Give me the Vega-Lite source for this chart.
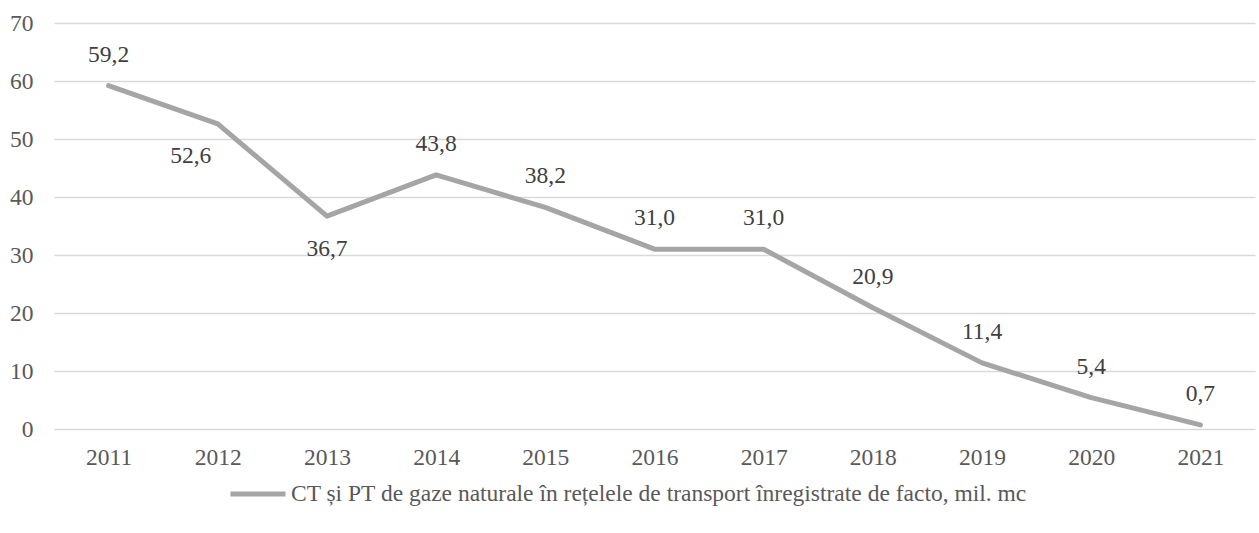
{
  "$schema": "https://vega.github.io/schema/vega-lite/v6.json",
  "autosize": "none",
  "width": 1201,
  "height": 406,
  "padding": {"left": 54, "top": 23, "right": 4, "bottom": 104},
  "background": "white",
  "config": {
    "view": {"stroke": null},
    "font": "Liberation Serif"
  },
  "data": {
    "values": [
      {"year": "2011", "value": 59.2, "label": "59,2", "series": "CT și PT de gaze naturale în rețelele de transport înregistrate de facto, mil. mc"},
      {"year": "2012", "value": 52.6, "label": "52,6", "series": "CT și PT de gaze naturale în rețelele de transport înregistrate de facto, mil. mc"},
      {"year": "2013", "value": 36.7, "label": "36,7", "series": "CT și PT de gaze naturale în rețelele de transport înregistrate de facto, mil. mc"},
      {"year": "2014", "value": 43.8, "label": "43,8", "series": "CT și PT de gaze naturale în rețelele de transport înregistrate de facto, mil. mc"},
      {"year": "2015", "value": 38.2, "label": "38,2", "series": "CT și PT de gaze naturale în rețelele de transport înregistrate de facto, mil. mc"},
      {"year": "2016", "value": 31.0, "label": "31,0", "series": "CT și PT de gaze naturale în rețelele de transport înregistrate de facto, mil. mc"},
      {"year": "2017", "value": 31.0, "label": "31,0", "series": "CT și PT de gaze naturale în rețelele de transport înregistrate de facto, mil. mc"},
      {"year": "2018", "value": 20.9, "label": "20,9", "series": "CT și PT de gaze naturale în rețelele de transport înregistrate de facto, mil. mc"},
      {"year": "2019", "value": 11.4, "label": "11,4", "series": "CT și PT de gaze naturale în rețelele de transport înregistrate de facto, mil. mc"},
      {"year": "2020", "value": 5.4, "label": "5,4", "series": "CT și PT de gaze naturale în rețelele de transport înregistrate de facto, mil. mc"},
      {"year": "2021", "value": 0.7, "label": "0,7", "series": "CT și PT de gaze naturale în rețelele de transport înregistrate de facto, mil. mc"}
    ]
  },
  "encoding": {
    "x": {
      "field": "year", "type": "ordinal",
      "scale": {"type": "point", "padding": 0.5},
      "axis": {"title": null, "labelAngle": 0, "domain": false, "ticks": false, "grid": false,
        "labelFont": "Liberation Serif", "labelFontSize": 23.5, "labelColor": "#595959", "labelPadding": 16}
    },
    "y": {
      "field": "value", "type": "quantitative",
      "scale": {"domain": [0, 70]},
      "axis": {"title": null, "values": [0,10,20,30,40,50,60,70], "domain": false, "ticks": false,
        "gridColor": "#D9D9D9", "gridWidth": 1.3,
        "labelFont": "Liberation Serif", "labelFontSize": 23.5, "labelColor": "#595959", "labelPadding": 21}
    }
  },
  "layer": [
    {
      "mark": {"type": "line", "strokeWidth": 5, "strokeCap": "round", "strokeJoin": "round"},
      "encoding": {
        "color": {
          "field": "series", "type": "nominal",
          "scale": {"range": ["#A5A5A5"]},
          "legend": {"title": null, "orient": "none", "legendX": 174, "legendY": 441,
            "symbolType": "stroke", "symbolSize": 3025, "symbolStrokeWidth": 5,
            "labelFont": "Liberation Serif", "labelFontSize": 23.5, "labelColor": "#595959",
            "labelOffset": 3, "labelLimit": 1000}
        }
      }
    },
    {
      "transform": [{"filter": "datum.year != '2012' && datum.year != '2013'"}],
      "mark": {"type": "text", "dy": -31, "fontSize": 23.5, "color": "#404040", "font": "Liberation Serif"},
      "encoding": {"text": {"field": "label"}}
    },
    {
      "transform": [{"filter": "datum.year == '2012'"}],
      "mark": {"type": "text", "dx": -27, "dy": 32, "fontSize": 23.5, "color": "#404040", "font": "Liberation Serif"},
      "encoding": {"text": {"field": "label"}}
    },
    {
      "transform": [{"filter": "datum.year == '2013'"}],
      "mark": {"type": "text", "dy": 33, "fontSize": 23.5, "color": "#404040", "font": "Liberation Serif"},
      "encoding": {"text": {"field": "label"}}
    }
  ]
}
